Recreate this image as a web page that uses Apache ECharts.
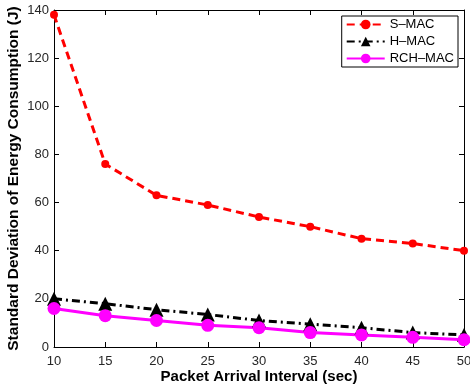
<!DOCTYPE html>
<html>
<head>
<meta charset="utf-8">
<script src="https://cdn.jsdelivr.net/npm/echarts@6/dist/echarts.min.js"></script>
<style>
  html, body { margin: 0; padding: 0; background: #fff; }
  #chart { width: 470px; height: 387px; }
</style>
</head>
<body>
<div id="chart"></div>
<script>
const intervals = [10, 15, 20, 25, 30, 35, 40, 45, 50];
const sMac = [138, 76, 63, 59, 54, 50, 45, 43, 40];
const hMac = [20, 18, 15.5, 13.5, 11, 9.5, 8, 6, 5];
const rchMac = [16, 13, 11, 9, 8, 6, 5, 4, 3];

const font = "Liberation Sans";
const toPairs = (vals) => vals.map((v, i) => [intervals[i], v]);

const chart = echarts.init(document.getElementById("chart"));

const boxAxis = {
  axisLine: { show: true, onZero: false, lineStyle: { color: "#000", width: 1 } },
  axisTick: { show: true, inside: true, length: 5, lineStyle: { color: "#000" } },
  splitLine: { show: false },
};

chart.setOption({
  animation: false,
  grid: { left: 54, right: 6, top: 10, bottom: 40, outerBoundsMode: "none", containLabel: false },
  legend: {
    right: 12,
    top: 16,
    orient: "vertical",
    itemWidth: 38,
    itemHeight: 12,
    itemGap: 4,
    padding: [2, 4, 2, 4],
    borderColor: "#000",
    borderWidth: 1,
    backgroundColor: "#fff",
    textStyle: { fontFamily: font, fontSize: 13, color: "#000" },
    data: ["S\u2013MAC", "H\u2013MAC", "RCH\u2013MAC"],
  },
  xAxis: [
    {
      type: "value",
      min: 10,
      max: 50,
      interval: 5,
      position: "bottom",
      ...boxAxis,
      axisLabel: { fontFamily: font, fontSize: 13, color: "#262626", margin: 8 },
      name: "Packet Arrival Interval (sec)",
      nameLocation: "middle",
      nameMoveOverlap: false,
      nameGap: 22,
      nameTextStyle: { fontFamily: font, fontSize: 15, fontWeight: "bold", color: "#000" },
    },
    {
      type: "value",
      min: 10,
      max: 50,
      interval: 5,
      position: "top",
      ...boxAxis,
      axisLabel: { show: false },
    },
  ],
  yAxis: [
    {
      type: "value",
      min: 0,
      max: 140,
      interval: 20,
      position: "left",
      ...boxAxis,
      axisLabel: { fontFamily: font, fontSize: 13, color: "#262626", margin: 5 },
      name: "Standard Deviation of Energy Consumption (J)",
      nameLocation: "middle",
      nameMoveOverlap: false,
      nameGap: 32,
      nameTextStyle: { fontFamily: font, fontSize: 15.5, fontWeight: "bold", color: "#000" },
    },
    {
      type: "value",
      min: 0,
      max: 140,
      interval: 20,
      position: "right",
      ...boxAxis,
      axisLabel: { show: false },
    },
  ],
  series: [
    {
      name: "S\u2013MAC",
      type: "line",
      data: toPairs(sMac),
      symbol: "circle",
      symbolSize: 8,
      itemStyle: { color: "#ff0000" },
      lineStyle: { color: "#ff0000", width: 3, type: [8, 5] },
    },
    {
      name: "H\u2013MAC",
      type: "line",
      data: toPairs(hMac),
      symbol: "triangle",
      symbolSize: 14,
      itemStyle: { color: "#000" },
      lineStyle: { color: "#000", width: 3, type: [8, 4, 2, 4] },
    },
    {
      name: "RCH\u2013MAC",
      type: "line",
      data: toPairs(rchMac),
      symbol: "circle",
      symbolSize: 13,
      itemStyle: { color: "#ff00ff" },
      lineStyle: { color: "#ff00ff", width: 3 },
    },
  ],
});
</script>
</body>
</html>
